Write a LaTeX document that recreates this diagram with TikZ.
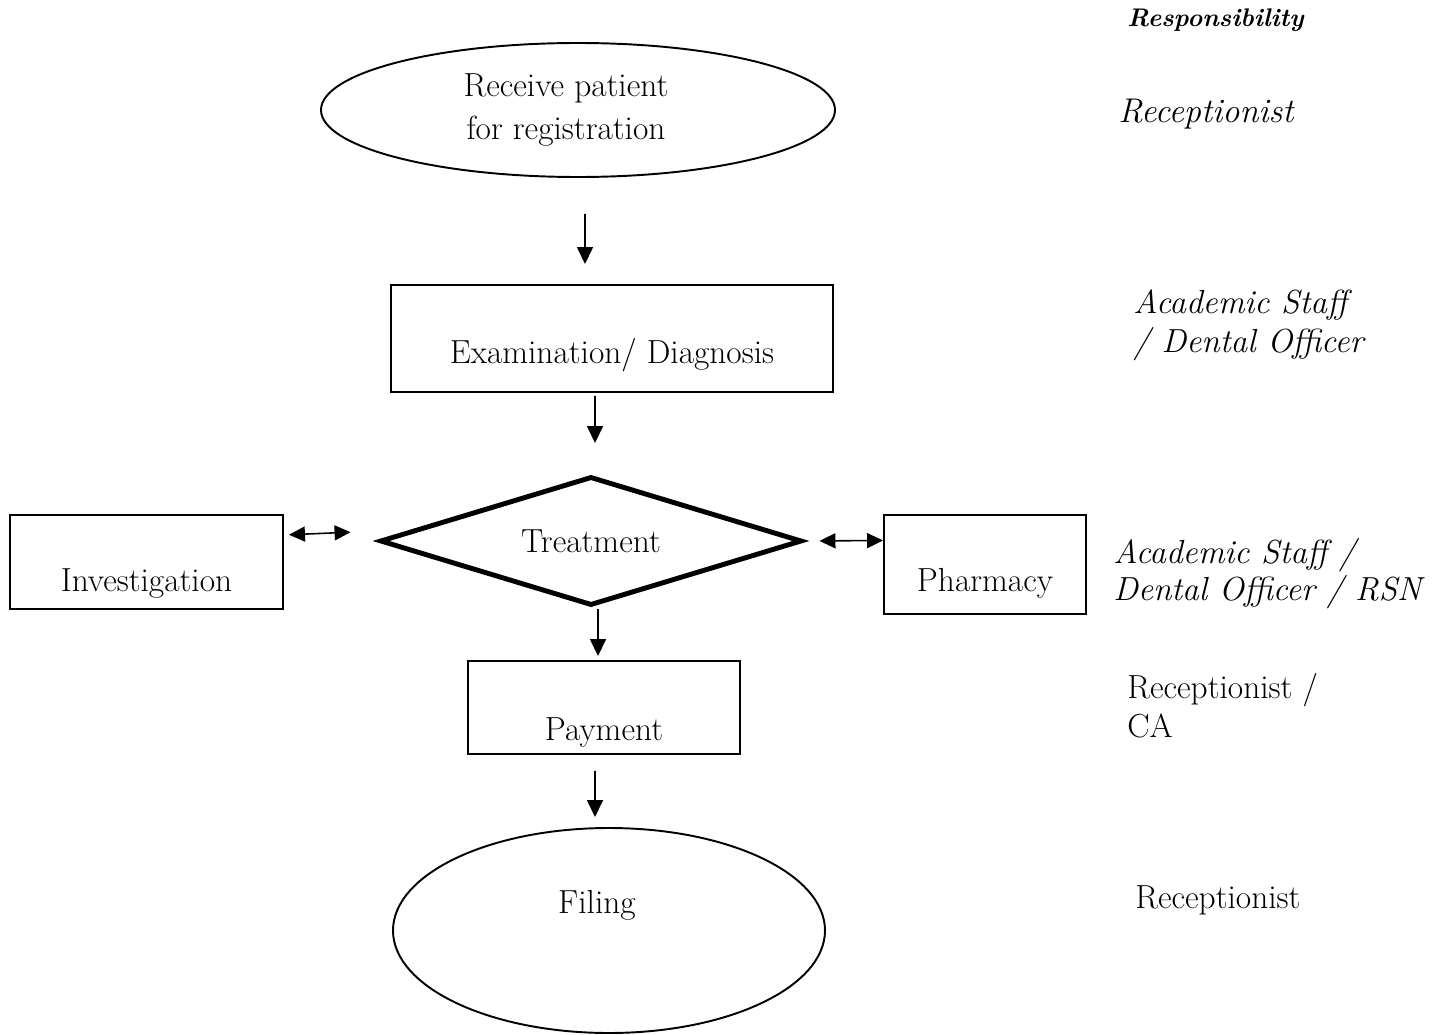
\documentclass[tikz,border=0pt]{standalone}
\usepackage{tikz}
\usetikzlibrary{shapes,arrows.meta,positioning}

\tikzset{
  box/.style={draw, line width=1.1pt, rectangle, inner sep=0pt},
  oval/.style={draw, line width=1.1pt, ellipse, inner sep=0pt, align=center},
  choice/.style={draw, line width=2.8pt, diamond, aspect=3.27, inner sep=0pt, line join=miter},
  flow/.style={-{Triangle[length=0.34cm,width=0.32cm]}, line width=0.9pt},
  twoway/.style={{Triangle[length=0.32cm,width=0.3cm]}-{Triangle[length=0.32cm,width=0.3cm]}, line width=0.9pt},
  lbl/.style={anchor=base, inner sep=0pt},
  role/.style={anchor=base west, inner sep=0pt},
  every node/.style={font=\fontsize{19}{24.5}\selectfont},
}

\begin{document}
\begin{tikzpicture}
\useasboundingbox (0,0) rectangle (28.8,-20.7);

% process steps
\node[oval, minimum width=10.28cm, minimum height=2.68cm] (recv) at (11.56,-2.2) {};
\node[align=center, inner sep=0pt] (recvtxt) at ([xshift=-0.24cm]recv.center) {Receive patient\\ for registration};
\node[box, minimum width=8.84cm, minimum height=2.14cm] (exam) at (12.24,-6.77) {};
\node[lbl] (examtxt) at ([yshift=-0.49cm]exam.center) {Examination/ Diagnosis};
\node[choice, minimum width=8.44cm, minimum height=2.58cm] (treat) at (11.82,-10.82) {Treatment};
\node[box, minimum width=5.46cm, minimum height=1.88cm] (inv) at (2.93,-11.24) {};
\node[lbl] (invtxt) at ([yshift=-0.58cm]inv.center) {Investigation};
\node[box, minimum width=4.04cm, minimum height=1.98cm] (phar) at (19.70,-11.29) {};
\node[lbl] (phartxt) at ([yshift=-0.53cm]phar.center) {Pharmacy};
\node[box, minimum width=5.44cm, minimum height=1.86cm] (pay) at (12.08,-14.15) {};
\node[lbl] (paytxt) at ([yshift=-0.65cm]pay.center) {Payment};
\node[oval, minimum width=8.64cm, minimum height=4.1cm] (fil) at (12.18,-18.61) {};
\node[lbl] (filtxt) at ([xshift=-0.24cm,yshift=0.35cm]fil.center) {Filing};

% arrows
\draw[flow, shorten <=0.72cm, shorten >=0.4cm] ([xshift=0.14cm]recv.south) -- ([xshift=-0.54cm]exam.north);
\draw[flow, shorten <=0.06cm, shorten >=0.62cm] ([xshift=-0.34cm]exam.south) -- ([xshift=0.08cm]treat.north);
\draw[flow, shorten <=0.02cm, shorten >=0.08cm] ([xshift=0.14cm]treat.south) -- ([xshift=-0.12cm]pay.north);
\draw[flow, shorten <=0.32cm, shorten >=0.2cm] ([xshift=-0.18cm]pay.south) -- ([xshift=-0.28cm]fil.north);
\draw[twoway, shorten <=0.1cm, shorten >=0.54cm] ([yshift=0.54cm]inv.east) -- ([yshift=0.2cm]treat.west);
\draw[twoway, shorten <=0.3cm] (treat.east) -- ([yshift=0.48cm]phar.west);

% responsibility column
\node[role, font=\fontsize{14.5}{17}\selectfont\bfseries\itshape] (resp) at (22.54,-0.54) {Responsibility};
\node[role, font=\fontsize{19.5}{24}\selectfont\itshape] (r1) at (22.36,-2.46) {Receptionist};
\node[role, font=\fontsize{19}{24}\selectfont\itshape] (r2a) at (22.66,-6.26) {Academic Staff};
\node[role, font=\fontsize{19}{24}\selectfont\itshape] (r2b) at (22.66,-7.04) {/ Dental Officer};
\node[role, font=\fontsize{19}{24}\selectfont\itshape] (r3a) at (22.26,-11.26) {Academic Staff /};
\node[role, font=\fontsize{19}{24}\selectfont\itshape] (r3b) at (22.26,-12.0) {Dental Officer / RSN};
\node[role] (r4a) at (22.54,-13.96) {Receptionist /};
\node[role] (r4b) at (22.54,-14.74) {CA};
\node[role] (r5) at (22.7,-18.16) {Receptionist};
\end{tikzpicture}
\end{document}
